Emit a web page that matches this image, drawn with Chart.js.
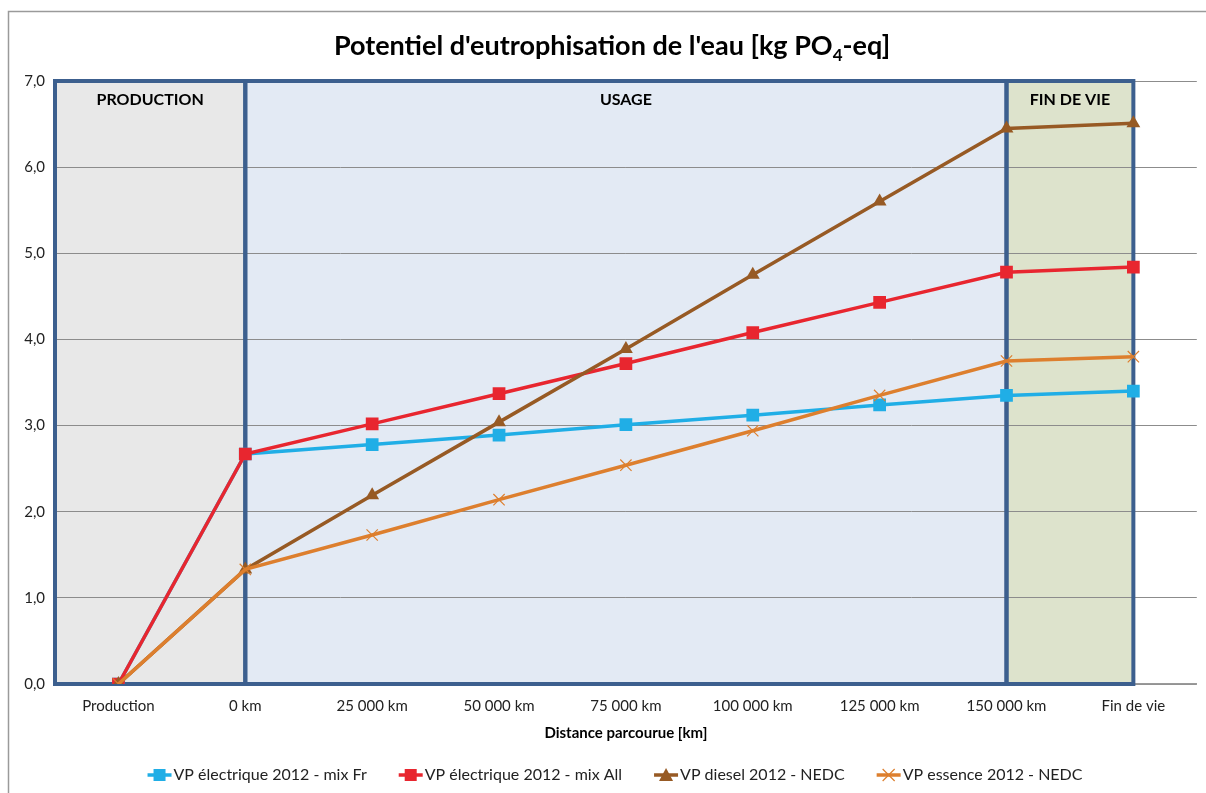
<!DOCTYPE html>
<html>
<head>
<meta charset="utf-8">
<script src="https://cdn.jsdelivr.net/npm/chart.js@4.4.0/dist/chart.umd.min.js"></script>
<style>
  html, body { margin: 0; padding: 0; background: #fff; }
  #wrap { width: 1206px; height: 793px; }
</style>
</head>
<body>
<div id="wrap"><canvas id="chart" width="1206" height="793"></canvas></div>
<script>
// Données
const categories = ['Production', '0 km', '25 000 km', '50 000 km', '75 000 km', '100 000 km', '125 000 km', '150 000 km', 'Fin de vie'];
const mixFr   = [0, 2.67, 2.78, 2.89, 3.01, 3.12, 3.24, 3.35, 3.40];
const mixAll  = [0, 2.67, 3.02, 3.37, 3.72, 4.08, 4.43, 4.78, 4.84];
const diesel  = [0, 1.33, 2.19, 3.04, 3.89, 4.75, 5.60, 6.45, 6.51];
const essence = [0, 1.33, 1.73, 2.14, 2.54, 2.94, 3.35, 3.75, 3.80];
const yTicks = [0, 1, 2, 3, 4, 5, 6, 7];

// Phases du cycle de vie
const phases = [
    { label: 'PRODUCTION', from: null, to: 1, color: '#e8e8e8' },
    { label: 'USAGE', from: 1, to: 7, color: '#e3eaf4' },
    { label: 'FIN DE VIE', from: 7, to: 8, color: '#dde3cc' }
];

const FONT = 'Lato, "Open Sans", sans-serif';

// Marqueur façon Excel
function drawMarker(g, style, color, x, y) {
    g.fillStyle = color;
    g.strokeStyle = color;
    if (style === 'rect') {
        g.fillRect(x - 6, y - 6, 12, 12);
    } else if (style === 'triangle') {
        g.beginPath(); g.moveTo(x, y - 7); g.lineTo(x + 7, y + 6); g.lineTo(x - 7, y + 6); g.closePath(); g.fill();
    } else {
        g.lineWidth = 1.2;
        g.beginPath(); g.moveTo(x - 6, y - 6); g.lineTo(x + 6, y + 6); g.moveTo(x + 6, y - 6); g.lineTo(x - 6, y + 6); g.stroke();
    }
}

function makeSet(label, data, color, style, radius, order) {
    return {
        label, data, order,
        borderColor: color,
        backgroundColor: color,
        borderWidth: 3.5,
        pointStyle: style,
        pointRadius: radius,
        pointHoverRadius: radius,
        pointBorderWidth: style === 'crossRot' ? 1.2 : 0,
        pointBackgroundColor: color,
        pointBorderColor: color,
        tension: 0,
        marker: style === 'crossRot' ? 'cross' : style
    };
}

// Ordre : les séries suivantes passent au-dessus (comme Excel)
const datasets = [
    makeSet('VP électrique 2012 - mix Fr', mixFr, '#20aee6', 'rect', 9, 3),
    makeSet('VP électrique 2012 - mix All', mixAll, '#e8262f', 'rect', 9, 2),
    makeSet('VP diesel 2012 - NEDC', diesel, '#975a24', 'triangle', 8, 1),
    makeSet('VP essence 2012 - NEDC', essence, '#dd7f2e', 'crossRot', 8, 0)
];

const decor = {
    id: 'decor',
    beforeDraw(chart) {
        const { ctx, chartArea, scales } = chart;
        ctx.save();
        // cadre extérieur
        ctx.strokeStyle = '#9a9a9a';
        ctx.lineWidth = 1.5;
        ctx.beginPath();
        ctx.moveTo(8.5, 793); ctx.lineTo(8.5, 11.5); ctx.lineTo(1206, 11.5);
        ctx.stroke();
        phases.forEach(p => {
            const x1 = p.from === null ? chartArea.left : scales.x.getPixelForValue(p.from);
            const x2 = scales.x.getPixelForValue(p.to);
            ctx.fillStyle = p.color;
            ctx.fillRect(x1, chartArea.top, x2 - x1, chartArea.bottom - chartArea.top);
        });
        // titre avec indice
        ctx.fillStyle = '#000';
        ctx.textBaseline = 'alphabetic';
        const bold = 'bold 27px ' + FONT;
        const sub = 'bold 17px ' + FONT;
        const t1 = "Potentiel d'eutrophisation de l'eau [kg PO", t2 = '4', t3 = '-eq]';
        ctx.font = bold; const w1 = ctx.measureText(t1).width, w3 = ctx.measureText(t3).width;
        ctx.font = sub; const w2 = ctx.measureText(t2).width;
        let x = 612 - (w1 + w2 + w3) / 2;
        ctx.font = bold; ctx.fillText(t1, x, 55); x += w1;
        ctx.font = sub; ctx.fillText(t2, x, 61); x += w2;
        ctx.font = bold; ctx.fillText(t3, x, 55);
        ctx.restore();
    },
    beforeDatasetsDraw(chart) {
        const { ctx, chartArea, scales } = chart;
        ctx.save();
        ctx.strokeStyle = '#3c5f8e';
        ctx.lineWidth = 4;
        ctx.fillStyle = '#000';
        ctx.font = 'bold 16px ' + FONT;
        ctx.textAlign = 'center';
        ctx.textBaseline = 'middle';
        phases.forEach(p => {
            const x1 = p.from === null ? chartArea.left : scales.x.getPixelForValue(p.from);
            const x2 = scales.x.getPixelForValue(p.to);
            ctx.strokeRect(x1, chartArea.top, x2 - x1, chartArea.bottom - chartArea.top);
            ctx.fillText(p.label, (x1 + x2) / 2, chartArea.top + 19);
        });
        ctx.restore();
    },
    afterDraw(chart) {
        // légende en bas
        const ctx = chart.ctx;
        ctx.save();
        ctx.font = '16px ' + FONT;
        ctx.textBaseline = 'middle';
        const iconW = 24, gapIcon = 2, gapItem = 32, y = 775;
        const items = chart.data.datasets.map(ds => ({ ds, w: iconW + gapIcon + ctx.measureText(ds.label).width }));
        const total = items.reduce((s, it) => s + it.w, 0) + gapItem * (items.length - 1);
        let x = 615 - total / 2;
        items.forEach(it => {
            ctx.strokeStyle = it.ds.borderColor;
            ctx.lineWidth = 3.5;
            ctx.beginPath(); ctx.moveTo(x, y); ctx.lineTo(x + iconW, y); ctx.stroke();
            drawMarker(ctx, it.ds.marker, it.ds.borderColor, x + iconW / 2, y);
            ctx.fillStyle = '#222';
            ctx.fillText(it.ds.label, x + iconW + gapIcon, y);
            x += it.w + gapItem;
        });
        ctx.restore();
    }
};

new Chart(document.getElementById('chart'), {
    type: 'line',
    data: { labels: categories, datasets },
    plugins: [decor],
    options: {
        responsive: false,
        animation: false,
        layout: { padding: { top: 81, right: 8, left: 0, bottom: 51 } },
        plugins: {
            title: { display: false },
            tooltip: { enabled: false },
            legend: { display: false }
        },
        scales: {
            x: {
                offset: true,
                afterFit(scale) { scale.height = 58; },
                grid: { display: false, drawTicks: false },
                border: { display: true, color: '#9a9a9a', width: 1.5 },
                ticks: { color: '#222', font: { family: FONT, size: 15 }, padding: 13, maxRotation: 0, autoSkip: false },
                title: { display: true, text: 'Distance parcourue [km]', color: '#000', font: { family: FONT, size: 15, weight: 'bold' }, padding: { top: 5, bottom: 0 } }
            },
            y: {
                min: 0, max: 7,
                afterFit(scale) { scale.width = 55; },
                afterBuildTicks(scale) { scale.ticks = yTicks.map(v => ({ value: v })); },
                grid: { color: '#8c8c8c', lineWidth: 1, drawTicks: false },
                border: { display: false },
                ticks: {
                    color: '#222', font: { family: FONT, size: 15 }, padding: 10,
                    callback: v => v.toFixed(1).replace('.', ',')
                }
            }
        }
    }
});
</script>
</body>
</html>
